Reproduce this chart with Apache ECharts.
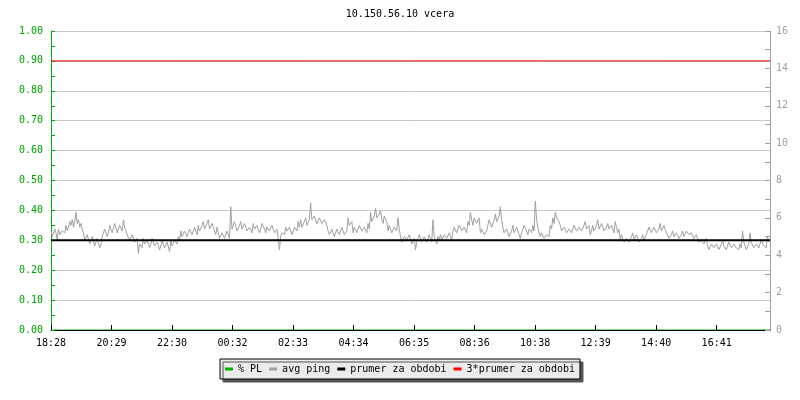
<!DOCTYPE html>
<html>
<head>
<meta charset="utf-8">
<script src="https://cdn.jsdelivr.net/npm/echarts@6/dist/echarts.min.js"></script>
<style>html,body{margin:0;padding:0;background:#fff}#c{width:800px;height:400px}</style>
</head>
<body>
<div id="c"></div>
<script>
// ---- data ----
var titleText = "10.150.56.10 vcera";
var legendNames = ["% PL", "avg ping", "prumer za obdobi", "3*prumer za obdobi"];
var xTickLabels = ["18:28","20:29","22:30","00:32","02:33","04:34","06:35","08:36","10:38","12:39","14:40","16:41"];
var tickStepMin = 121.2;       // minutes between labelled ticks
var spanMin = 1440;            // minutes shown on x axis
var sampleStepMin = 2.5;       // minutes between samples
// avg ping (ms)
var avgPing = [
 5.3,5.0,4.9,5.4,5.2,4.8,5.4,5.1,5.0,5.3,
 5.4,5.2,5.6,5.3,5.5,5.8,5.6,5.9,5.5,5.8,6.3,5.7,5.9,5.5,5.7,5.4,
 5.2,4.8,4.7,5.1,5.0,4.6,4.6,5.0,4.9,4.5,4.5,4.9,4.8,4.4,4.6,5.0,
 5.1,5.4,5.4,5.0,5.2,5.6,5.6,5.2,5.3,5.7,5.5,5.2,5.2,5.6,5.7,5.3,5.9,5.5,5.3,5.1,
 5.0,4.8,4.8,5.1,5.1,4.7,4.7,4.9,
 4.1,4.6,4.7,4.4,4.9,4.6,4.5,4.8,4.8,4.4,4.6,4.9,4.9,4.5,4.4,4.7,
 4.7,4.3,4.5,4.8,4.8,4.4,4.3,4.7,4.6,4.2,4.8,4.5,4.5,4.8,4.9,4.6,
 5.0,4.8,5.3,5.0,4.9,5.3,5.4,5.0,5.1,5.4,5.5,5.1,5.2,5.5,5.4,5.1,
 5.6,5.3,5.2,5.6,5.8,5.4,5.4,5.7,5.9,5.4,5.3,5.7,5.7,5.3,5.1,5.5,
 5.2,4.9,4.9,5.2,5.3,4.9,5.0,5.3,5.2,4.9,
 6.6,5.4,5.5,5.8,5.7,5.3,5.3,5.6,5.8,5.4,5.4,5.7,5.6,5.3,5.2,5.5,
 5.5,5.2,5.7,5.4,5.3,5.6,5.6,5.2,5.4,5.7,5.8,5.4,5.2,5.5,5.6,5.3,5.3,5.6,5.5,5.2,5.2,5.4,
 4.9,4.3,5.0,5.2,
 5.3,5.1,5.5,5.3,5.2,5.5,5.4,5.1,5.3,5.5,5.6,5.3,5.8,5.5,
 5.9,5.5,5.5,5.8,6.0,5.6,5.6,5.9,
 6.8,5.9,5.8,6.1,6.2,5.7,5.7,6.0,6.1,5.7,5.6,5.9,6.0,5.6,
 5.3,5.1,5.0,5.4,5.4,5.0,5.1,5.4,5.5,5.1,5.2,5.5,5.4,5.1,5.0,5.3,
 6.0,5.6,5.5,5.8,
 5.2,5.5,5.5,5.2,5.3,5.6,5.6,5.3,5.2,5.5,5.4,5.2,5.7,5.4,
 6.3,5.8,5.8,6.1,6.5,6.0,5.9,6.2,6.4,5.9,5.7,6.1,6.1,5.8,
 5.3,5.6,5.6,5.2,5.2,5.5,5.5,5.3,6.0,5.4,
 5.0,4.7,4.7,5.0,5.1,4.8,4.8,5.1,5.0,4.6,4.6,4.9,4.3,4.7,4.9,5.1,
 5.1,4.7,4.7,5.0,5.0,4.7,4.8,5.1,5.1,4.7,5.9,5.0,4.9,4.6,5.0,4.8,
 5.1,4.8,4.8,5.1,5.2,4.9,4.9,5.2,5.1,4.8,
 5.3,5.5,5.5,5.2,5.2,5.6,5.6,5.3,5.3,5.5,5.5,5.2,
 5.8,5.6,6.3,5.9,5.6,6.0,6.1,5.7,5.7,6.0,
 5.2,5.4,5.4,5.1,5.1,5.3,
 5.6,5.9,6.0,5.5,5.5,5.9,6.2,5.8,5.8,6.1,6.6,5.9,
 5.5,5.2,5.1,5.4,5.4,5.0,5.0,5.3,5.6,5.2,5.2,5.5,5.5,5.1,4.9,5.2,5.3,5.6,5.7,5.3,5.1,5.4,5.4,5.2,
 5.6,5.3,6.9,5.9,5.5,5.2,
 5.0,5.2,5.3,4.9,4.9,5.1,5.2,5.0,
 5.6,5.4,6.0,5.7,6.3,6.0,6.1,5.8,
 5.6,5.3,5.3,5.5,5.5,5.2,5.2,5.4,5.4,5.2,
 5.4,5.6,5.7,5.3,5.2,5.5,5.6,5.3,5.3,5.6,5.8,5.4,5.4,5.6,5.1,5.3,5.6,5.3,5.3,
 5.6,5.9,5.4,5.4,5.7,5.6,5.3,5.2,5.5,5.7,5.4,5.3,5.6,5.5,5.2,5.8,5.5,5.2,5.4,
 4.8,5.1,5.1,4.7,4.6,4.9,5.0,4.7,4.7,5.0,5.2,4.8,4.8,5.1,5.0,4.7,4.6,4.9,5.1,4.8,4.9,5.1,
 5.3,5.5,5.6,5.2,5.2,5.5,5.5,5.2,5.1,5.4,5.7,5.3,5.3,5.6,5.4,5.2,
 5.2,4.9,4.9,5.1,5.3,5.0,5.0,5.2,5.2,4.9,4.8,5.1,5.3,5.0,5.1,5.3,5.4,5.1,5.0,5.2,5.2,4.9,4.9,5.1,
 4.9,4.7,4.6,4.8,4.8,4.6,4.7,4.9,
 4.5,4.3,4.3,4.6,4.7,4.4,4.4,4.6,4.6,4.3,4.3,4.6,4.8,4.5,4.5,4.3,4.4,4.7,4.7,4.4,4.3,4.6,4.6,4.4,4.5,4.3,
 4.6,4.4,5.3,4.7,4.5,4.3,4.4,4.6,5.2,4.7,4.6,4.4,4.3,4.6,4.7,4.4,4.5,4.8,4.8,4.5,4.6,4.4,5.0,4.7
];
var plValues = [0, 0];          // packet loss fraction at start and end
var periodMean = 4.8;           // prumer za obdobi (ms)
var periodMean3 = 14.4;         // 3*prumer (ms)
var leftTicks = {min: 0, max: 1, step: 0.1};
var rightTicks = {min: 0, max: 16, step: 2};

// ---- build ----
var pingSeries = avgPing.map(function (v, i) { return [i * sampleStepMin, v]; });
var plSeries = [[0, plValues[0]], [spanMin, plValues[1]]];
var meanSeries = [[0, periodMean], [spanMin, periodMean]];
var mean3Series = [[0, periodMean3], [spanMin, periodMean3]];

var FONT = "DejaVu Sans Mono";
var GREEN = "#00b000", GRAY = "#a0a0a0";

var chart = echarts.init(document.getElementById('c'), null, {renderer: 'canvas'});
chart.setOption({
  animation: false,
  backgroundColor: '#ffffff',
  title: {
    text: titleText, left: 'center', top: 4,
    textStyle: {fontFamily: FONT, fontSize: 10, fontWeight: 'normal', color: '#000'}
  },
  legend: {
    data: legendNames.map(function (n) { return {name: n, icon: 'rect'}; }),
    top: 359, left: 'center',
    itemWidth: 8, itemHeight: 3, itemGap: 7,
    padding: [5, 5],
    backgroundColor: '#ebebeb', borderColor: '#000', borderWidth: 1,
    shadowColor: '#555', shadowBlur: 0, shadowOffsetX: 3, shadowOffsetY: 3,
    textStyle: {fontFamily: FONT, fontSize: 10, color: '#000'}
  },
  grid: {show: false, left: 51, right: 30, top: 31, bottom: 70, containLabel: false},
  xAxis: {
    type: 'value', min: 0, max: spanMin, interval: tickStepMin,
    axisLine: {show: true, onZero: false, lineStyle: {color: '#000', width: 1}},
    axisTick: {show: true, inside: true, length: 5, lineStyle: {color: '#000'}},
    splitLine: {show: false, showMinLine: false, showMaxLine: false},
    minorSplitLine: {show: false},
    axisLabel: {
      fontFamily: FONT, fontSize: 10, color: '#000', margin: 8,
      showMaxLabel: false,
      formatter: function (v) { var k = Math.round(v / tickStepMin); return xTickLabels[k] || ''; }
    }
  },
  yAxis: [{
    type: 'value', position: 'left', min: leftTicks.min, max: leftTicks.max, interval: leftTicks.step,
    axisLine: {show: true, onZero: false, lineStyle: {color: GREEN, width: 1}},
    axisTick: {show: true, inside: true, length: 4, lineStyle: {color: GREEN}},
    minorTick: {show: true, splitNumber: 2, length: 4, lineStyle: {color: GREEN}},
    splitLine: {show: true, lineStyle: {color: '#c8c8c8', width: 1}},
    axisLabel: {fontFamily: FONT, fontSize: 10, color: '#00a000', margin: 8,
      formatter: function (v) { return v.toFixed(2); }}
  }, {
    type: 'value', position: 'right', min: rightTicks.min, max: rightTicks.max, interval: rightTicks.step,
    axisLine: {show: true, onZero: false, lineStyle: {color: GRAY, width: 1}},
    axisTick: {show: true, inside: true, length: 5, lineStyle: {color: GRAY}},
    minorTick: {show: true, splitNumber: 2, length: 5, lineStyle: {color: GRAY}},
    splitLine: {show: false},
    axisLabel: {fontFamily: FONT, fontSize: 10, color: GRAY, margin: 6}
  }],
  series: [{
    name: legendNames[0], type: 'line', yAxisIndex: 0, data: plSeries, z: -1,
    showSymbol: false, color: GREEN, lineStyle: {width: 1, color: GREEN}
  }, {
    name: legendNames[1], type: 'line', yAxisIndex: 1, data: pingSeries,
    showSymbol: false, color: GRAY, lineStyle: {width: 1, color: GRAY}
  }, {
    name: legendNames[2], type: 'line', yAxisIndex: 1, data: meanSeries,
    showSymbol: false, color: '#000', lineStyle: {width: 2, color: '#000'}
  }, {
    name: legendNames[3], type: 'line', yAxisIndex: 1, data: mean3Series,
    showSymbol: false, color: '#ff0000', lineStyle: {width: 1, color: '#ff0000'}
  }]
});
</script>
</body>
</html>
